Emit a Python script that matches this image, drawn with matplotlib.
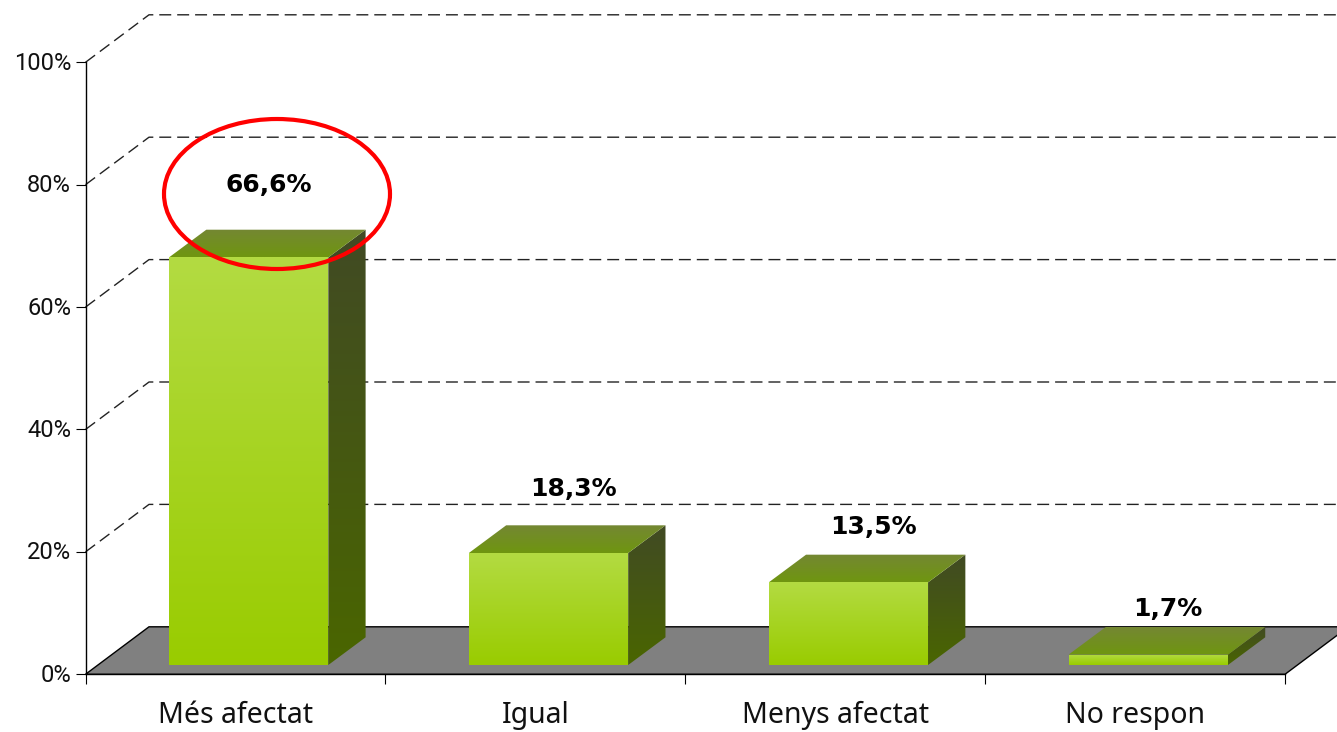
import numpy as np
import matplotlib
matplotlib.use("Agg")
import matplotlib.pyplot as plt
from matplotlib.patches import Polygon, Ellipse
from matplotlib.transforms import ScaledTranslation

categories = ["Més afectat", "Igual", "Menys afectat", "No respon"]
values = [66.6, 18.3, 13.5, 1.7]
labels = ["66,6%", "18,3%", "13,5%", "1,7%"]
y_ticks = [0, 20, 40, 60, 80, 100]
y_tick_labels = ["0%", "20%", "40%", "60%", "80%", "100%"]

plt.rcParams["font.family"] = ["Noto Sans", "DejaVu Sans"]

W, H = 1337, 732
fig = plt.figure(figsize=(W / 100, H / 100), dpi=100)
# axes rectangle in pixels: x 85.5-1285, y 62.3-674.3 from the top
ax = fig.add_axes([85.5 / W, 1 - 674.3 / H, 1199.5 / W, 612 / H])
ax.set_xlim(0, 4)
ax.set_ylim(0, 100)

# pixel sizes turned into data units
px_x = 4 / 1199.5
px_y = 100 / 612
wall_dx = 63.5 * px_x
wall_dy = 47.5 * px_y
bar_dx = 37.3 * px_x
bar_dy = 27.7 * px_y
bar_left = 83.5 * px_x
bar_w = 159.3 * px_x
bar_base = 9.3 * px_y


def gradient(pts, top, bottom, z):
    # vertical gradient clipped to a polygon
    pts = np.array(pts)
    c = matplotlib.colors.LinearSegmentedColormap.from_list("g", [top, bottom])
    im = ax.imshow(np.linspace(0, 1, 256).reshape(-1, 1), cmap=c, aspect="auto",
                   extent=(pts[:, 0].min(), pts[:, 0].max(), pts[:, 1].min(), pts[:, 1].max()),
                   origin="upper", zorder=z)
    im.set_clip_path(Polygon(pts, transform=ax.transData))
    im.set_clip_box(fig.bbox)


# grid on the walls
for v in y_ticks[1:]:
    ax.plot([0, wall_dx, 4.3], [v, v + wall_dy, v + wall_dy], color="#222222", lw=1,
            dashes=(8.6, 4.3), clip_on=False, zorder=1)

# floor
ax.add_patch(Polygon([(0, 0), (wall_dx, wall_dy), (4 + wall_dx, wall_dy), (4, 0)],
                     facecolor="#808080", edgecolor="black", lw=1, clip_on=False, zorder=2))

# bars
for i, v in enumerate(values):
    x0 = i + bar_left
    x1 = x0 + bar_w
    y0 = bar_base
    y1 = bar_base + v
    gradient([(x0, y0), (x1, y0), (x1, y1), (x0, y1)], "#b3db42", "#99cc00", 3)
    gradient([(x1, y0), (x1 + bar_dx, y0 + bar_dy), (x1 + bar_dx, y1 + bar_dy), (x1, y1)],
             "#414a24", "#4a6600", 3)
    gradient([(x0, y1), (x1, y1), (x1 + bar_dx, y1 + bar_dy), (x0 + bar_dx, y1 + bar_dy)],
             "#748733", "#6f9610", 3)

# value labels, offsets in pixels from the bar's top front left corner
label_off = [(100, 72), (105, 64), (105, 55), (99, 46)]
for i, v in enumerate(values):
    ax.annotate(labels[i], xy=(i + bar_left, v + bar_base), xycoords="data",
                xytext=label_off[i], textcoords="offset pixels",
                ha="center", va="center", fontsize=18, fontweight="bold",
                family="DejaVu Sans", color="black", zorder=6, annotation_clip=False)

# red circle around the first value
ax.add_patch(Ellipse((191.5 * px_x, 480.3 * px_y), 226 * px_x, 150 * px_y, fill=False,
                     edgecolor="#ff0000", lw=3, clip_on=False, zorder=5))

for s in ["top", "right"]:
    ax.spines[s].set_visible(False)
for s in ["left", "bottom"]:
    ax.spines[s].set_linewidth(1)
    ax.spines[s].set_zorder(4)

ax.set_yticks(y_ticks)
ax.set_yticklabels(y_tick_labels, fontsize=17, family="Roboto", color="#111111")
ax.set_xticks(range(5))
ax.set_xticklabels([])
ax.set_xticks(np.arange(4) + 0.5, categories, minor=True, fontsize=20.5, color="#111111")
ax.tick_params(axis="both", which="major", length=7.2, width=0.8, pad=3.2)
ax.tick_params(axis="x", which="minor", length=0, pad=19)
ax.patch.set_alpha(0)

up = ScaledTranslation(0, 1.5 / 100, fig.dpi_scale_trans)
for t in ax.get_yticklabels():
    t.set_transform(t.get_transform() + up)

fig.savefig("out.png", dpi=100)
